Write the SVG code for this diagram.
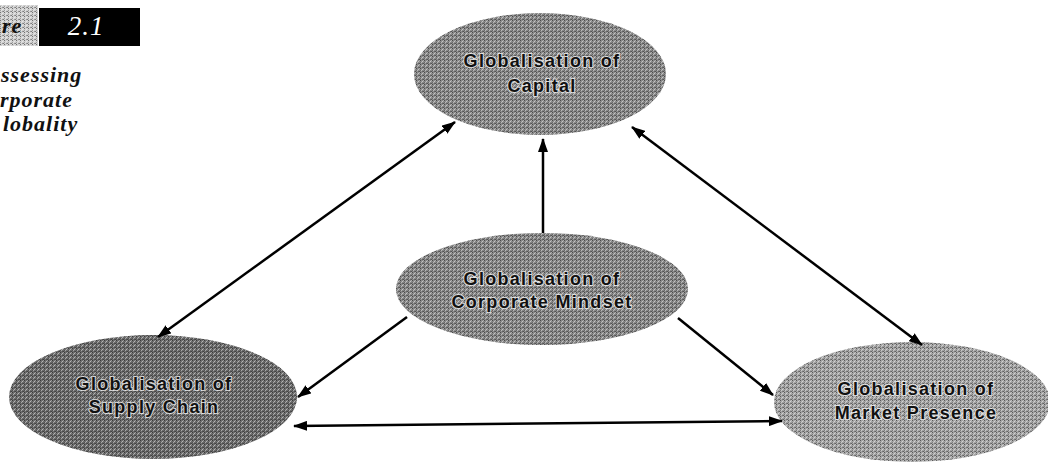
<svg xmlns="http://www.w3.org/2000/svg" width="1048" height="462" viewBox="0 0 1048 462">
  <style>
    .lbl { font-family: "Liberation Sans", Arial, sans-serif; font-size: 18px; font-weight: bold; letter-spacing: 1.3px; fill: #111; stroke: #fff; stroke-width: 2.2px; stroke-opacity: 0.7; paint-order: stroke; text-anchor: middle; }
    .side { font-family: "Liberation Serif", "Times New Roman", serif; font-size: 22px; font-weight: bold; font-style: italic; letter-spacing: 1px; fill: #111; }
    .conn { stroke: #000; stroke-width: 2.5; fill: none; }
    .tex { fill: url(#dither); }
  </style>
  <defs>
    <pattern id="dither" width="4" height="4" patternUnits="userSpaceOnUse">
      <rect x="0" y="0" width="1" height="1" fill="#000" fill-opacity="0.45"/>
      <rect x="2" y="1" width="1" height="1" fill="#fff" fill-opacity="0.5"/>
      <rect x="1" y="2" width="1" height="1" fill="#fff" fill-opacity="0.4"/>
      <rect x="3" y="3" width="1" height="1" fill="#000" fill-opacity="0.4"/>
      <rect x="2" y="3" width="1" height="1" fill="#000" fill-opacity="0.25"/>
      <rect x="0" y="2" width="1" height="1" fill="#000" fill-opacity="0.25"/>
      <rect x="3" y="0" width="1" height="1" fill="#fff" fill-opacity="0.3"/>
    </pattern>
    <marker id="ah" viewBox="0 0 14 10" refX="13" refY="5" markerWidth="14" markerHeight="10" markerUnits="userSpaceOnUse" orient="auto-start-reverse">
      <path d="M0,0 L14,5 L0,10 z" fill="#000"/>
    </marker>
  </defs>

  <g id="figure-label">
    <rect x="0" y="5" width="38" height="41" fill="#cfcfcf"/>
    <rect x="0" y="5" width="38" height="41" class="tex"/>
    <text x="2" y="33" class="side">re</text>
    <rect x="39" y="8" width="101" height="38" fill="#000"/>
    <text x="86" y="35" font-family="Liberation Serif, Times New Roman, serif" font-size="27" font-style="italic" fill="#fff" text-anchor="middle" letter-spacing="1">2.1</text>
    <text x="1" y="82" class="side">ssessing</text>
    <text x="0" y="107" class="side">rporate</text>
    <text x="3" y="131" class="side">lobality</text>
  </g>

  <g id="node-capital">
    <ellipse cx="540" cy="74" rx="126" ry="61" fill="#8a8a8a"/>
    <ellipse cx="540" cy="74" rx="126" ry="61" class="tex"/>
    <text x="542" y="67" class="lbl">Globalisation of</text>
    <text x="542" y="92" class="lbl">Capital</text>
  </g>

  <g id="node-mindset">
    <ellipse cx="542" cy="289" rx="146" ry="56" fill="#888"/>
    <ellipse cx="542" cy="289" rx="146" ry="56" class="tex"/>
    <text x="542" y="285" class="lbl">Globalisation of</text>
    <text x="542" y="308" class="lbl">Corporate Mindset</text>
  </g>

  <g id="node-supply">
    <ellipse cx="153" cy="397" rx="144" ry="62" fill="#6c6c6c"/>
    <ellipse cx="153" cy="397" rx="144" ry="62" class="tex"/>
    <text x="154" y="390" class="lbl">Globalisation of</text>
    <text x="154" y="413" class="lbl">Supply Chain</text>
  </g>

  <g id="node-market">
    <ellipse cx="912" cy="402" rx="138" ry="60" fill="#a4a4a4"/>
    <ellipse cx="912" cy="402" rx="138" ry="60" class="tex"/>
    <text x="916" y="395" class="lbl">Globalisation of</text>
    <text x="916" y="419" class="lbl">Market Presence</text>
  </g>

  <g id="connectors">
    <line x1="455" y1="122" x2="158" y2="337" class="conn" marker-start="url(#ah)" marker-end="url(#ah)"/>
    <line x1="632" y1="127" x2="922" y2="345" class="conn" marker-start="url(#ah)" marker-end="url(#ah)"/>
    <line x1="543" y1="233" x2="543" y2="139" class="conn" marker-end="url(#ah)"/>
    <line x1="407" y1="317" x2="298" y2="397" class="conn" marker-end="url(#ah)"/>
    <line x1="678" y1="318" x2="773" y2="395" class="conn" marker-end="url(#ah)"/>
    <line x1="294" y1="426" x2="782" y2="421" class="conn" marker-start="url(#ah)" marker-end="url(#ah)"/>
  </g>
</svg>
